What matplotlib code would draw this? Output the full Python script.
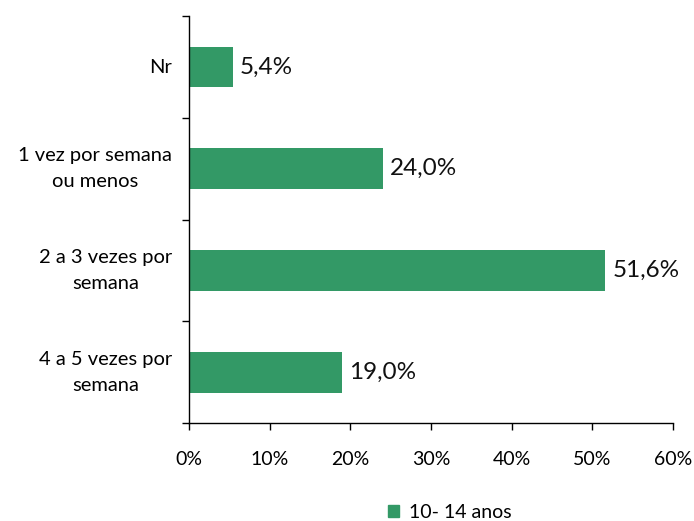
import matplotlib
matplotlib.use("Agg")
import matplotlib.pyplot as plt
import matplotlib.ticker as mticker
from matplotlib.patches import Patch

plt.rcParams.update({
    "font.family": ["Lato", "DejaVu Sans"],
    "axes.linewidth": 1.0,
    "xtick.major.size": 5,
    "ytick.major.size": 5,
    "xtick.major.width": 1.0,
    "ytick.major.width": 1.0,
})

categories = ["Nr", "1 vez por semana\nou menos", "2 a 3 vezes por\nsemana",
              "4 a 5 vezes por\nsemana"]
values = [5.4, 24.0, 51.6, 19.0]
value_labels = ["5,4%", "24,0%", "51,6%", "19,0%"]
series_name = "10- 14 anos"
x_ticks = [0, 10, 20, 30, 40, 50, 60]

GREEN = "#339966"

fig = plt.figure(figsize=(6.94, 5.21), dpi=100)
ax = fig.add_axes([0.2723, 0.188, 0.6974, 0.781])

pos = list(range(len(categories)))
ax.barh(pos, values, height=0.4, color=GREEN, zorder=2)

for p, v, lab in zip(pos, values, value_labels):
    ax.text(v + 0.9, p, lab, va="center", ha="left", fontsize=17.5, color="#111111")

ax.set_xlim(0, 60)
ax.set_ylim(len(categories) - 0.5, -0.5)
ax.set_xticks(x_ticks)
ax.xaxis.set_major_formatter(mticker.FuncFormatter(lambda x, _: f"{x:.0f}%"))
ax.tick_params(axis="x", labelsize=14, pad=15, direction="out")

# category ticks sit on the boundaries between bars
ax.set_yticks([p - 0.5 for p in pos] + [len(pos) - 0.5])
ax.set_yticklabels([])
ax.tick_params(axis="y", direction="out", length=5)
for p, c in zip(pos, categories):
    ax.text(-0.035, p, c, transform=ax.get_yaxis_transform(), ha="right",
            va="center", fontsize=14.5, linespacing=1.65, multialignment="center")

for s in ("top", "right"):
    ax.spines[s].set_visible(False)

fig.legend(handles=[Patch(color=GREEN, label=series_name)], loc="center",
           bbox_to_anchor=(0.648, 0.017), frameon=False, fontsize=14,
           handlelength=0.6, handleheight=0.6, handletextpad=0.5)

fig.savefig("out.png", dpi=100)
